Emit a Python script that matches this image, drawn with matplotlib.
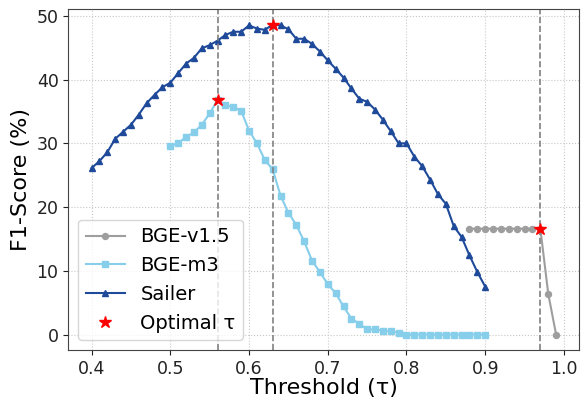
import numpy as np
import matplotlib
matplotlib.use("Agg")
import matplotlib.pyplot as plt

# Data
sailer_x = [round(0.40 + 0.01 * i, 2) for i in range(51)]
sailer_y = [26.1, 27.2, 28.6, 30.7, 31.8, 32.9, 34.5, 36.3, 37.6, 38.8,
            39.5, 41.0, 42.5, 43.4, 44.9, 45.4, 46.1, 47.0, 47.5, 47.5,
            48.5, 48.0, 47.8, 48.6, 48.5, 47.9, 46.4, 46.4, 45.6, 44.4,
            43.0, 41.7, 40.3, 38.6, 37.0, 36.5, 35.3, 33.7, 31.9, 30.0,
            30.0, 27.9, 26.4, 24.3, 22.0, 20.5, 17.0, 15.3, 12.4, 9.8,
            7.5]

m3_x = [round(0.50 + 0.01 * i, 2) for i in range(41)]
m3_y = [29.6, 30.0, 31.0, 31.7, 32.9, 34.7, 36.8, 36.0, 35.7, 35.1,
        32.0, 30.0, 27.4, 25.9, 21.8, 19.1, 17.2, 14.6, 11.6, 9.8,
        7.9, 6.5, 4.4, 2.5, 1.7, 0.8, 0.8, 0.6, 0.5, 0.3,
        0.0, 0.0, 0.0, 0.0, 0.0, 0.0, 0.0, 0.0, 0.0, 0.0, 0.0]

v15_x = [round(0.88 + 0.01 * i, 2) for i in range(12)]
v15_y = [16.6, 16.6, 16.6, 16.6, 16.6, 16.6, 16.6, 16.6, 16.6, 16.6, 6.4, 0.0]

opt_x = [0.97, 0.56, 0.63]
opt_y = [16.6, 36.8, 48.6]

fig = plt.figure(figsize=(5.85, 3.99), dpi=100)
ax = fig.add_axes([0.1168, 0.1228, 0.8735, 0.854])

ax.plot(v15_x, v15_y, color="#9e9e9e", marker="o", markersize=4.3, linewidth=1.5, label="BGE-v1.5")
ax.plot(m3_x, m3_y, color="#87ceeb", marker="s", markersize=4.3, linewidth=1.5, label="BGE-m3")
ax.plot(sailer_x, sailer_y, color="#1f4a9a", marker="^", markersize=5, linewidth=1.5, label="Sailer")
for x in opt_x:
    ax.axvline(x, color="gray", linestyle="--", linewidth=1.2)
ax.plot(opt_x, opt_y, linestyle="none", marker="*", color="red", markersize=9, label="Optimal τ", zorder=5)

ax.grid(True, linestyle=":", color="#c8c8c8", linewidth=0.8)
ax.set_axisbelow(True)
for s in ax.spines.values():
    s.set_color("#444444")
ax.tick_params(labelsize=12.5, colors="#222222")
ax.tick_params(axis="x", pad=3.5)
ax.set_xlabel("Threshold (τ)", fontsize=16, labelpad=0)
ax.set_ylabel("F1-Score (%)", fontsize=16, labelpad=4)
ax.set_xticks([0.4, 0.5, 0.6, 0.7, 0.8, 0.9, 1.0])
ax.set_yticks([0, 10, 20, 30, 40, 50])
ax.legend(loc="lower left", fontsize=14)

fig.savefig("out.png", dpi=100)
